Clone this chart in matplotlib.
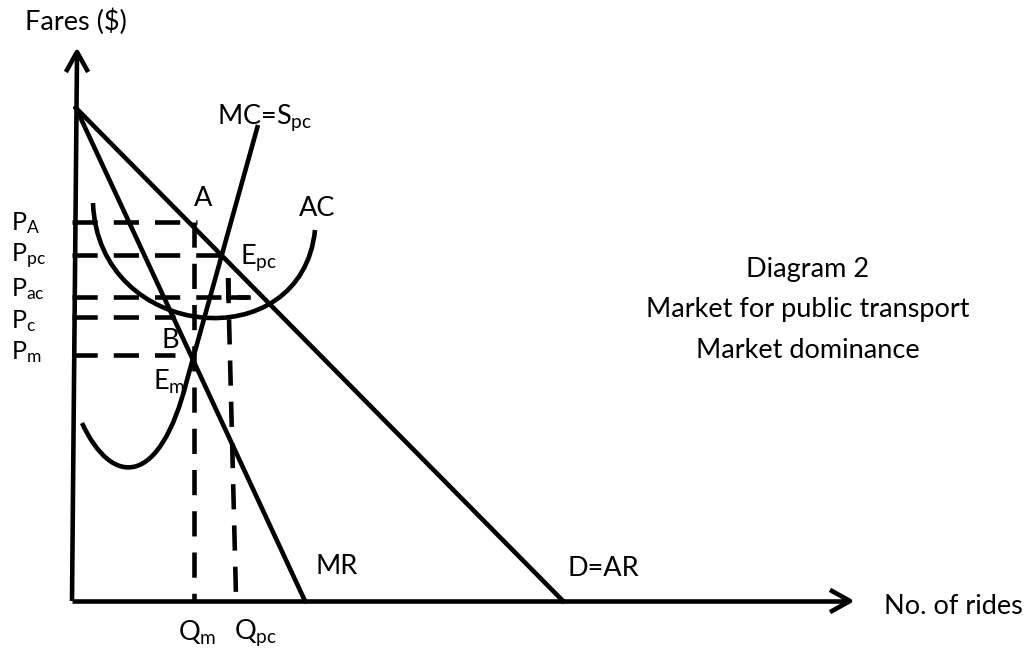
import matplotlib.pyplot as plt
from matplotlib.path import Path
from matplotlib.patches import PathPatch

plt.rcParams['font.family'] = ['Lato', 'DejaVu Sans']
plt.rcParams['mathtext.default'] = 'regular'

# everything in pixel coordinates of the 1028x651 picture (y goes down)
origin = (72, 601)
y_axis_top = (77, 52)
x_axis_end = (850, 601)

demand_x = [76, 563]
demand_y = [108, 601]
mr_x = [76, 305]
mr_y = [108, 601]

# MC: U shaped bottom then a straight rise
mc_bottom = [(82, 423), (112, 488), (160, 488), (187, 380)]
mc_top = (258, 125)

# AC curve
ac_pts = [(93, 203), (98, 342), (302, 360), (315, 230)]

# price levels (y) and how far the dashes reach (x)
price_labels = ['P_{A}', 'P_{pc}', 'P_{ac}', 'P_{c}', 'P_{m}']
price_y = [222, 255, 297, 317, 355]
price_x_end = [197, 222, 248, 175, 175]
price_label_y = [223, 256, 289, 321, 352]

qm_x = 194
qpc_top = (228, 278)
qpc_bot = (236, 596)

fig = plt.figure(figsize=(10.28, 6.51), dpi=100)
ax = fig.add_axes([0, 0, 1, 1])
ax.set_xlim(0, 1028)
ax.set_ylim(651, 0)
ax.axis('off')

lw = 3.3
k = 'black'

# axes with arrows
ax.plot([origin[0], y_axis_top[0]], [origin[1], y_axis_top[1] + 4], color=k, lw=lw, solid_capstyle='butt')
ax.plot([origin[0], x_axis_end[0] - 4], [origin[1], origin[1]], color=k, lw=lw, solid_capstyle='butt')
ax.plot([y_axis_top[0] - 10, y_axis_top[0], y_axis_top[0] + 10],
        [y_axis_top[1] + 18, y_axis_top[1], y_axis_top[1] + 18], color=k, lw=lw)
ax.plot([x_axis_end[0] - 18, x_axis_end[0], x_axis_end[0] - 18],
        [origin[1] - 10, origin[1], origin[1] + 10], color=k, lw=lw)

# demand and MR
ax.plot(demand_x, demand_y, color=k, lw=lw)
ax.plot(mr_x, mr_y, color=k, lw=lw)

# MC
codes = [Path.MOVETO, Path.CURVE4, Path.CURVE4, Path.CURVE4, Path.LINETO]
ax.add_patch(PathPatch(Path(mc_bottom + [mc_top], codes), fill=False, lw=lw, ec=k))

# AC
ax.add_patch(PathPatch(Path(ac_pts, codes[:4]), fill=False, lw=lw, ec=k))

# dashed price lines
for lab, yy, xe, ly in zip(price_labels, price_y, price_x_end, price_label_y):
    ax.plot([origin[0], xe], [yy, yy], color=k, lw=lw, dashes=(5.5, 3.5))
    ax.text(11, ly, '$' + lab + '$', fontsize=18, ha='left', va='center')

# dashed verticals
ax.plot([qm_x, qm_x], [222, 601], color=k, lw=lw, dashes=(5.5, 3.5))
ax.plot([qpc_top[0], qpc_bot[0]], [qpc_top[1], qpc_bot[1]], color=k, lw=lw, dashes=(5.5, 3.5))
ax.plot([228, 248], [297, 297], color=k, lw=lw)
ax.plot([228, 228], [280, 297], color=k, lw=lw)

# labels
fs = 19.5
ax.text(25, 22, 'Fares ($)', fontsize=fs, va='center')
ax.text(217, 118, '$MC$=$S_{pc}$', fontsize=fs, va='center')
ax.text(194, 198, 'A', fontsize=fs, va='center')
ax.text(299, 208, 'AC', fontsize=fs, va='center')
ax.text(240, 258, '$E_{pc}$', fontsize=fs, va='center')
ax.text(161, 340, 'B', fontsize=fs, va='center')
ax.text(153, 382, '$E_{m}$', fontsize=fs, va='center')
ax.text(316, 566, 'MR', fontsize=fs, va='center')
ax.text(568, 569, 'D=AR', fontsize=fs, va='center')
ax.text(884, 607, 'No. of rides', fontsize=fs, va='center')
ax.text(178, 633, '$Q_{m}$', fontsize=fs, va='center')
ax.text(234, 633, '$Q_{pc}$', fontsize=fs, va='center')

ax.text(808, 270, 'Diagram 2', fontsize=fs, ha='center', va='center')
ax.text(808, 309, 'Market for public transport', fontsize=fs, ha='center', va='center')
ax.text(808, 351, 'Market dominance', fontsize=fs, ha='center', va='center')

fig.savefig('out.png', dpi=100)
